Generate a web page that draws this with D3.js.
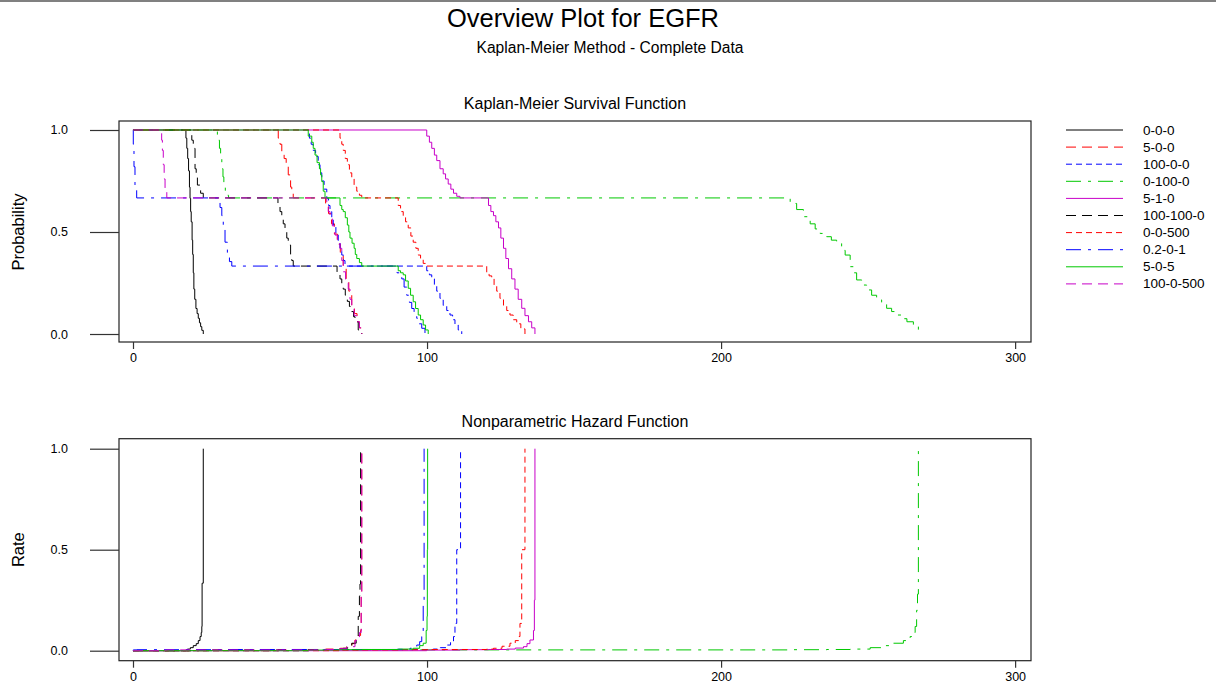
<!DOCTYPE html>
<html>
<head>
<meta charset="utf-8">
<title>Overview Plot for EGFR</title>
<script src="https://cdn.jsdelivr.net/npm/d3@7"></script>
<style>
	body { margin: 0; background: #fff; }
	text { font-family: "Liberation Sans", Arial, sans-serif; fill: #000; }
</style>
</head>
<body>
<div id="OverviewChart"></div>
<script>
// group names, same order as the legend
var groups = ['0-0-0', '5-0-0', '100-0-0', '0-100-0', '5-1-0', '100-100-0', '0-0-500', '0.2-0-1', '5-0-5', '100-0-500'];

var xTicks = [0, 100, 200, 300];
var yTicks = [0.0, 0.5, 1.0];

// Kaplan-Meier survival, [time, probability] steps
var km000 = [[0,1],[18.0,0.96],[18.3,0.91],[18.6,0.86],[18.9,0.80],[19.2,0.72],[19.4,0.665],[19.6,0.60],[19.8,0.55],[20.1,0.46],[20.3,0.39],[20.5,0.30],[20.7,0.22],[21.0,0.17],[21.4,0.125],[21.8,0.10],[22.2,0.077],[22.6,0.055],[23.0,0.036],[23.4,0.018],[23.9,0]];
var km500 = [[0,1],[49.4,0.96],[50.0,0.93],[50.6,0.89],[51.4,0.86],[52.1,0.82],[52.8,0.78],[53.6,0.72],[54.0,0.69],[54.5,0.667],[65.5,0.63],[66.5,0.59],[67.5,0.54],[68.5,0.49],[69.5,0.44],[70.5,0.40],[71.5,0.32],[72.5,0.26],[73.4,0.21],[74.4,0.14],[75.3,0.10],[76.2,0.06],[77.0,0.03],[77.8,0]];
var km1000 = [[0,1],[60.0,0.96],[60.6,0.93],[61.3,0.90],[62.1,0.87],[63.0,0.83],[63.6,0.79],[64.2,0.75],[65.0,0.71],[65.9,0.665],[66.5,0.63],[67.0,0.60],[67.6,0.57],[68.1,0.534],[69.0,0.49],[69.8,0.45],[70.4,0.42],[71.0,0.387],[71.6,0.36],[72.1,0.333],[99.9,0.31],[100.8,0.29],[101.6,0.27],[102.5,0.24],[103.3,0.21],[104.4,0.175],[105.5,0.14],[106.7,0.115],[107.8,0.093],[108.7,0.07],[109.5,0.044],[110.6,0.02],[111.8,0]];
var km01000 = [[0,1],[28.7,0.95],[29.4,0.91],[29.8,0.86],[30.2,0.81],[30.6,0.77],[30.9,0.74],[31.4,0.70],[31.9,0.68],[32.5,0.667],[223.5,0.64],[225.7,0.61],[228.0,0.575],[230.3,0.54],[232.0,0.515],[233.7,0.493],[235.9,0.477],[237.5,0.46],[239.3,0.444],[241.0,0.41],[242.2,0.387],[243.9,0.33],[245.0,0.30],[246.1,0.265],[247.8,0.24],[249.5,0.216],[251.2,0.19],[252.9,0.167],[254.6,0.145],[256.3,0.126],[258.0,0.11],[259.8,0.093],[261.5,0.075],[263.2,0.06],[265.4,0.036],[267.1,0.012]];
var km510 = [[0,1],[99.9,0.97],[100.8,0.94],[101.6,0.91],[102.5,0.877],[103.3,0.85],[104.4,0.81],[105.5,0.785],[106.3,0.76],[107.2,0.735],[108.1,0.71],[109.0,0.69],[110.1,0.675],[111.2,0.667],[120.9,0.63],[121.7,0.60],[122.6,0.58],[123.4,0.55],[124.3,0.52],[125.1,0.47],[126.0,0.42],[126.8,0.37],[127.7,0.32],[128.8,0.27],[129.9,0.22],[131.0,0.17],[132.2,0.126],[133.3,0.09],[134.5,0.06],[135.6,0.03],[136.7,0]];
var km1001000 = [[0,1],[20.0,0.95],[20.5,0.91],[21.1,0.81],[21.5,0.77],[21.9,0.73],[23.0,0.69],[23.9,0.667],[49.3,0.63],[50.0,0.60],[50.6,0.58],[51.1,0.54],[51.7,0.50],[52.3,0.47],[52.8,0.436],[53.6,0.387],[54.0,0.36],[54.5,0.333],[69.4,0.30],[70.4,0.27],[71.0,0.245],[71.5,0.22],[72.2,0.19],[72.9,0.16],[73.6,0.135],[74.4,0.11],[75.0,0.085],[75.5,0.06],[76.6,0.02],[77.8,0]];
var km00500 = [[0,1],[70.4,0.96],[71.0,0.93],[71.5,0.90],[72.2,0.86],[72.9,0.83],[73.6,0.79],[74.4,0.76],[75.2,0.72],[76.1,0.70],[77.0,0.68],[77.8,0.667],[90.2,0.63],[91.0,0.60],[91.9,0.58],[92.7,0.55],[93.6,0.52],[94.5,0.48],[95.3,0.45],[96.2,0.42],[97.0,0.387],[97.8,0.365],[98.7,0.346],[99.9,0.333],[120.3,0.30],[121.1,0.285],[122.0,0.27],[122.8,0.24],[123.7,0.21],[124.8,0.175],[126.0,0.14],[127.1,0.115],[128.2,0.093],[129.3,0.07],[130.5,0.05],[131.9,0.025],[133.3,0]];
var km0201 = [[0,1],[0.1,0.93],[0.34,0.82],[0.68,0.706],[1.25,0.667],[29.6,0.62],[30.2,0.58],[30.7,0.52],[31.3,0.45],[32.1,0.39],[32.8,0.355],[33.6,0.333],[89.8,0.30],[90.6,0.285],[91.4,0.27],[92.2,0.23],[93.1,0.19],[94.0,0.155],[94.8,0.125],[95.6,0.10],[96.5,0.077],[97.3,0.05],[98.2,0.028],[99.3,0]];
var km505 = [[0,1],[59.6,0.97],[60.8,0.94],[61.3,0.91],[61.9,0.877],[62.6,0.84],[63.4,0.81],[63.8,0.78],[64.2,0.747],[64.7,0.70],[65.3,0.667],[70.4,0.63],[71.0,0.61],[71.5,0.60],[72.2,0.57],[72.9,0.534],[73.4,0.50],[73.8,0.47],[74.5,0.445],[75.2,0.42],[75.6,0.39],[76.1,0.37],[77.0,0.35],[77.8,0.333],[90.2,0.31],[91.0,0.30],[91.9,0.29],[92.7,0.26],[93.6,0.224],[94.4,0.19],[95.3,0.158],[96.1,0.125],[97.0,0.093],[97.8,0.07],[98.7,0.044],[99.5,0.02],[100.4,0]];
var km1000500 = [[0,1],[9.75,0.95],[10.0,0.90],[10.3,0.83],[10.6,0.76],[10.9,0.70],[11.5,0.667],[65.9,0.63],[66.4,0.60],[67.0,0.58],[67.8,0.53],[68.7,0.485],[69.5,0.45],[70.4,0.42],[71.0,0.36],[71.5,0.305],[72.3,0.26],[73.2,0.22],[73.8,0.17],[74.4,0.126],[75.2,0.09],[76.1,0.06],[77.0,0.03],[77.8,0]];

// nonparametric hazard, [time, rate] steps
var hz000 = [[0,0],[18.0,0.004],[18.5,0.008],[19.5,0.015],[20.5,0.025],[21.5,0.035],[22.2,0.05],[22.8,0.07],[23.2,0.09],[23.4,0.12],[23.5,0.334],[23.9,1.0]];
var hz500 = [[0,0],[49.4,0.003],[54.5,0.004],[65.5,0.008],[70.5,0.012],[72.7,0.02],[74.4,0.035],[75.5,0.053],[76.6,0.075],[77.4,0.10],[77.6,0.27],[77.8,1.0]];
var hz1000 = [[0,0],[60.0,0.003],[66.0,0.005],[72.1,0.006],[100.0,0.006],[102.1,0.008],[104.5,0.015],[106.7,0.028],[108.0,0.045],[109.0,0.07],[109.5,0.135],[110.1,0.5],[111.4,1.0]];
var hz01000 = [[0,0],[28.7,0.003],[32.5,0.004],[223.5,0.005],[236.0,0.006],[243.9,0.008],[250.7,0.015],[255.0,0.025],[257.5,0.037],[262.0,0.05],[264.3,0.07],[265.4,0.09],[266.0,0.12],[266.5,0.2],[266.8,0.28],[267.1,1.0]];
var hz510 = [[0,0],[99.9,0.003],[111.2,0.005],[120.9,0.006],[127.1,0.008],[130.0,0.013],[132.8,0.02],[134.0,0.035],[135.0,0.053],[136.2,0.10],[136.5,0.25],[136.7,1.0]];
var hz1001000 = [[0,0],[20.0,0.003],[23.9,0.004],[49.3,0.005],[54.5,0.006],[69.4,0.008],[71.5,0.012],[73.0,0.022],[74.4,0.037],[75.9,0.07],[76.6,0.17],[77.0,0.27],[77.2,0.33],[77.4,1.0]];
var hz00500 = [[0,0],[70.4,0.003],[77.8,0.004],[90.2,0.005],[99.9,0.006],[120.3,0.008],[122.6,0.012],[125.5,0.022],[128.2,0.037],[130.0,0.05],[131.1,0.07],[131.6,0.135],[132.2,0.5],[133.3,1.0]];
var hz0201 = [[0,0],[0.1,0.004],[1.25,0.005],[33.6,0.006],[89.8,0.007],[94.2,0.012],[96.5,0.028],[97.5,0.045],[98.2,0.07],[98.7,0.23],[99.0,1.0]];
var hz505 = [[0,0],[59.6,0.003],[65.3,0.004],[70.4,0.005],[77.8,0.006],[90.2,0.008],[95.3,0.012],[97.5,0.025],[98.7,0.037],[99.7,0.10],[100.0,0.17],[100.1,0.5],[100.2,1.0]];
var hz1000500 = [[0,0],[9.75,0.003],[11.5,0.004],[65.9,0.006],[70.4,0.01],[72.7,0.02],[75.5,0.05],[77.0,0.09],[77.6,0.27],[77.8,1.0]];

var survival = [km000, km500, km1000, km01000, km510, km1001000, km00500, km0201, km505, km1000500];
var hazard = [hz000, hz500, hz1000, hz01000, hz510, hz1001000, hz00500, hz0201, hz505, hz1000500];

// styles: colours cycle over 5, line types over 4
var colors = ['#000000', '#ff0000', '#0000ff', '#00c800', '#c800c8'];
var dashes = [null, '10,6', '6,4', '15,7,3,7'];

var width = 1216;
var height = 686;

var svg = d3.select('#OverviewChart')
	.append('svg')
	.attr('width', width)
	.attr('height', height);

svg.append('rect')
	.attr('x', 0).attr('y', 0)
	.attr('width', width).attr('height', 2)
	.attr('fill', '#808080');

svg.append('text')
	.attr('x', 583).attr('y', 27)
	.attr('text-anchor', 'middle')
	.style('font-size', '25.5px')
	.text('Overview Plot for EGFR');

svg.append('text')
	.attr('x', 610).attr('y', 53)
	.attr('text-anchor', 'middle')
	.style('font-size', '15.6px')
	.text('Kaplan-Meier Method - Complete Data');

function drawPanel(id, box, yDomain, series, title, yLabel)
{
	var x = d3.scaleLinear()
		.domain([-4.76, 305.4])
		.range([box.left, box.right]);

	var y = d3.scaleLinear()
		.domain(yDomain)
		.range([box.bottom, box.top]);

	var g = svg.append('g');

	g.append('clipPath')
		.attr('id', id)
		.append('rect')
		.attr('x', box.left).attr('y', box.top)
		.attr('width', box.right - box.left)
		.attr('height', box.bottom - box.top);

	var line = d3.line()
		.curve(d3.curveStepAfter)
		.x(function(d) { return x(d[0]); })
		.y(function(d) { return y(d[1]); });

	g.append('g')
		.attr('clip-path', 'url(#' + id + ')')
		.selectAll('path')
		.data(series)
		.enter()
		.append('path')
		.attr('d', line)
		.attr('fill', 'none')
		.attr('stroke', function(d, i) { return colors[i % 5]; })
		.attr('stroke-width', 1)
		.attr('stroke-dasharray', function(d, i) { return dashes[i % 4]; });

	g.append('rect')
		.attr('x', box.left).attr('y', box.top)
		.attr('width', box.right - box.left)
		.attr('height', box.bottom - box.top)
		.attr('fill', 'none')
		.attr('stroke', '#222')
		.attr('stroke-width', 1.2);

	var yAxis = g.append('g')
		.attr('transform', 'translate(' + box.left + ',0)')
		.call(d3.axisLeft(y).tickValues(yTicks).tickSize(29).tickPadding(22).tickFormat(d3.format('.1f')));

	var xAxis = g.append('g')
		.attr('transform', 'translate(0,' + box.bottom + ')')
		.call(d3.axisBottom(x).tickValues(xTicks).tickSize(7).tickPadding(4).tickFormat(d3.format('d')));

	[yAxis, xAxis].forEach(function(a)
	{
		a.select('.domain').remove();
		a.selectAll('line').attr('stroke', '#333').attr('stroke-width', 1.2);
		a.selectAll('text')
			.style('font-family', '"Liberation Sans", Arial, sans-serif')
			.style('font-size', '12.5px')
			.attr('fill', '#000');
	});

	g.append('text')
		.attr('x', (box.left + box.right) / 2)
		.attr('y', box.top - 12)
		.attr('text-anchor', 'middle')
		.style('font-size', '16px')
		.text(title);

	g.append('text')
		.attr('transform', 'translate(24,' + y(0.5) + ') rotate(-90)')
		.attr('text-anchor', 'middle')
		.style('font-size', '16.5px')
		.text(yLabel);
}

drawPanel('clipTop', { left: 119, right: 1031, top: 121, bottom: 342 }, [-0.0392, 1.0441],
	survival, 'Kaplan-Meier Survival Function', 'Probability');

drawPanel('clipBottom', { left: 119, right: 1031, top: 438.7, bottom: 660.7 }, [-0.0495, 1.0495],
	hazard, 'Nonparametric Hazard Function', 'Rate');

// legend
var legendTop = 130;
var legendSpacing = 17.1;

var legend = svg.selectAll('.legend')
	.data(groups)
	.enter()
	.append('g')
	.attr('class', 'legend')
	.attr('transform', function(d, i) {
		return 'translate(1066,' + (legendTop + i * legendSpacing) + ')';
	});

legend.append('line')
	.attr('x1', 0).attr('x2', 57)
	.attr('y1', 0).attr('y2', 0)
	.attr('stroke', function(d, i) { return colors[i % 5]; })
	.attr('stroke-width', 1)
	.attr('stroke-dasharray', function(d, i) { return dashes[i % 4]; });

legend.append('text')
	.attr('x', 77)
	.attr('y', 4.5)
	.style('font-size', '13.5px')
	.text(function(d) { return d; });
</script>
</body>
</html>
